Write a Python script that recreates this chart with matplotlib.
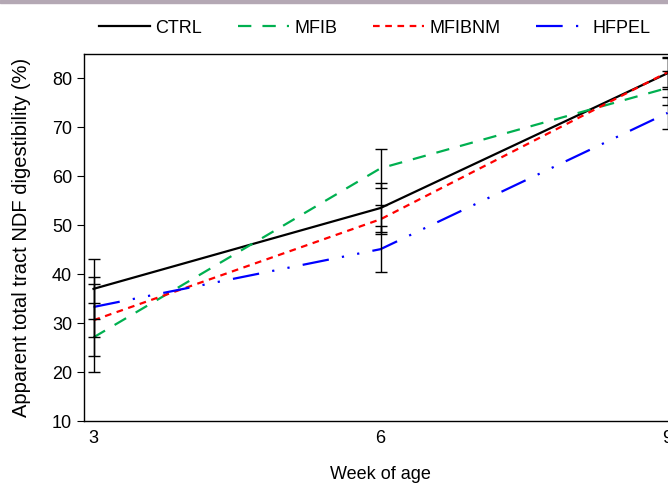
import matplotlib
matplotlib.use("Agg")
import matplotlib.pyplot as plt
from matplotlib.patches import Rectangle

weeks = [3, 6, 9]
ctrl = [37.0, 53.5, 81.0]
mfib = [27.1, 61.6, 78.0]
mfibnm = [30.6, 51.2, 81.2]
hfpel = [33.3, 45.1, 72.9]
ctrl_err = [6.1, 5.0, 3.3]
mfib_err = [7.0, 4.0, 3.5]
mfibnm_err = [7.3, 3.0, 3.0]
hfpel_err = [6.1, 4.7, 3.3]

plt.rcParams["font.family"] = ["Liberation Sans", "DejaVu Sans"]

fig = plt.figure(figsize=(6.68, 4.83), dpi=100)
ax = fig.add_axes([0.1257, 0.128, 0.888, 0.76])

series = [
    ("CTRL", ctrl, ctrl_err, "black", "-"),
    ("MFIB", mfib, mfib_err, "#00b050", (0, (6, 5))),
    ("MFIBNM", mfibnm, mfibnm_err, "#ff0000", (0, (3, 2.5))),
    ("HFPEL", hfpel, hfpel_err, "#0000ff", (0, (12, 6, 1, 6, 1, 6))),
]
for name, vals, err, col, ls in series:
    ax.plot(weeks, vals, color=col, linestyle=ls, lw=1.6, label=name, zorder=2)
for name, vals, err, col, ls in series:
    ax.errorbar(weeks, vals, yerr=err, fmt="none", ecolor="black", elinewidth=1,
                capsize=4, capthick=1, zorder=3)

ax.set_xlim(2.9, 9.1)
ax.set_ylim(10, 84.9)
ax.set_xticks(weeks)
ax.set_yticks(range(10, 81, 10))
ax.tick_params(axis="x", length=0, labelsize=13, pad=6)
ax.tick_params(axis="y", length=5, labelsize=13)
ax.set_xlabel("Week of age", fontsize=13, labelpad=14)
ax.set_ylabel("Apparent total tract NDF digestibility (%)", fontsize=14.5, labelpad=15)
for s in ax.spines.values():
    s.set_linewidth(1)

fig.legend(loc="center", bbox_to_anchor=(0.561, 0.942), ncol=4, frameon=False,
           fontsize=13, handlelength=2.8, columnspacing=2.0, handletextpad=0.3)

fig.patches.append(Rectangle((0, 0.994), 1, 0.006, transform=fig.transFigure,
                             color="#b4a8b4", zorder=0))

fig.savefig("out.png", dpi=100)
